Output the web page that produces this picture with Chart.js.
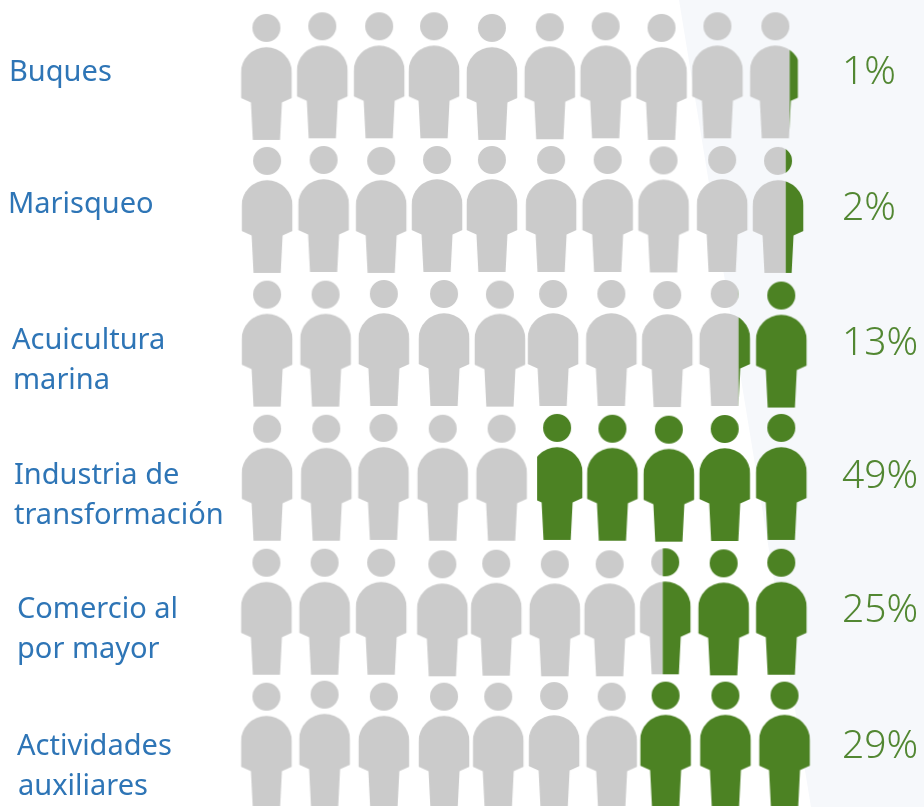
<!DOCTYPE html>
<html lang="es">
<head>
<meta charset="utf-8">
<title>Pictograma por sector</title>
<script src="https://cdn.jsdelivr.net/npm/chart.js@4"></script>
<style>html,body{margin:0;padding:0;background:#fff}canvas{display:block}</style>
</head>
<body>
<canvas id="c" width="924" height="807"></canvas>
<script>
// ---- data ----
const categories = [["Buques"],["Marisqueo"],["Acuicultura","marina"],["Industria de","transformación"],["Comercio al","por mayor"],["Actividades","auxiliares"]];
const shares = [1,2,13,49,25,29];
// how many pictogram people are green, counted from the right
const greenPersons = [0.22,0.35,1.23,5,2.55,3];
// column / row position of each person
const row1Cols = [1,1.974,2.965,3.922,4.930,5.939,6.913,7.887,8.861,9.870];
const row2Cols = [1.012,1.997,3,3.974,4.930,5.962,6.948,7.922,8.943,9.917];
const row3Cols = [1.012,2.031,3.047,4.096,5.070,5.997,7.012,7.986,8.988,9.974];
const row4Cols = [1.012,2.043,3.040,4.073,5.099,6.066,7.030,8.014,8.988,9.974];
const row5Cols = [1,2.014,3,4.066,5.005,6.026,6.983,7.951,8.970,9.974];
const row6Cols = [1,2.014,3.047,4.096,5.040,6.014,7.017,7.957,9,10.031];
const row1Rows = [1.007,0.995,0.995,0.995,1.007,1.002,0.995,1.007,0.995,0.995];
const row2Rows = [2,1.993,2,1.993,1.993,1.993,1.993,1.996,1.993,2];
const row3Rows = [2.998,2.998,2.993,2.993,2.998,2.993,2.993,3.001,2.993,3.005];
const row4Rows = [3.999,3.999,3.993,3.999,3.999,3.993,3.999,4.006,4.001,3.993];
const row5Rows = [4.999,4.999,4.999,5.011,5.006,5.011,5.011,4.996,5.004,4.999];
const row6Rows = [5.999,5.984,5.999,5.999,5.999,5.994,5.999,5.991,5.991,5.991];
const allCols = [row1Cols,row2Cols,row3Cols,row4Cols,row5Cols,row6Cols];
const allRows = [row1Rows,row2Rows,row3Rows,row4Rows,row5Rows,row6Rows];

// ---- layout (pixels) ----
const labelX = [[9],[8],[12,13],[14,14],[17,17],[17,18]];
const labelBaseline = [[81],[213],[349,389],[484,524],[618,658],[755,795]];
const shareX = 842;
const shareBaseline = [84,220,355,488,622,758];
const bodyTrims = [{row:0,col:9,right:3},{row:3,col:5,left:5.5}];

// ---- style ----
const GRAY = '#cbcbcb', GREEN = '#4c8223', BLUE = '#2e75b6', SHARE = '#528732', PANEL = '#f6f8fb';
const LABEL_FONT = '400 29px "Noto Sans"';
const SHARE_FONT = '300 39px "Noto Sans"';

// person sprite, anchored at the centre of the head
function personSprite(f, trimL, trimR){
  const W = 64, H = 240, cv = document.createElement('canvas');
  cv.width = W; cv.height = H;
  const g = cv.getContext('2d');
  g.translate(W/2, H/2);
  const hw = 25.5;
  function shape(){
    g.beginPath();
    g.arc(0,0,14,0,Math.PI*2);
    g.closePath();
    g.moveTo(-hw,44.8);
    g.arc(0,44.8,hw,Math.PI,0);
    g.lineTo(hw,70);
    g.lineTo(15.5,74.5);
    g.lineTo(13.6,112);
    g.lineTo(-13.6,112);
    g.lineTo(-15.5,74.5);
    g.lineTo(-hw,70);
    g.closePath();
  }
  const split = hw - f*2*hw;
  const L = -hw + trimL, R = hw - trimR;
  const S = Math.max(split, L);
  if (f < 1){ g.save(); g.beginPath(); g.rect(L,-20,S-L,140); g.clip(); shape(); g.fillStyle = GRAY; g.fill(); g.restore(); }
  if (f > 0){ g.save(); g.beginPath(); g.rect(S,-20,R-S,140); g.clip(); shape(); g.fillStyle = GREEN; g.fill(); g.restore(); }
  return cv;
}

const datasets = categories.map((cat,r)=>{
  const styles = allCols[r].map((_,c)=>{
    const f = Math.max(0,Math.min(1,greenPersons[r]-(9-c)));
    const t = bodyTrims.find(b=>b.row===r&&b.col===c)||{};
    return personSprite(f,t.left||0,t.right||0);
  });
  return {
    label: cat.join(' '),
    data: allCols[r].map((x,i)=>({x,y:allRows[r][i]})),
    pointStyle: styles,
    pointRadius: 1, pointHoverRadius: 1, pointBorderWidth: 0, showLine:false
  };
});

const panelPlugin = {
  id:'panel',
  beforeDatasetsDraw(chart){
    const g = chart.ctx;
    g.save(); g.fillStyle = PANEL;
    g.beginPath(); g.moveTo(679,0); g.lineTo(811,807); g.lineTo(924,807); g.lineTo(924,0); g.closePath(); g.fill();
    g.restore();
  }
};
const textPlugin = {
  id:'texts',
  afterDatasetsDraw(chart){
    const g = chart.ctx;
    g.save(); g.textAlign='left'; g.textBaseline='alphabetic';
    g.font = LABEL_FONT; g.fillStyle = BLUE;
    categories.forEach((lines,r)=>lines.forEach((t,i)=>g.fillText(t,labelX[r][i],labelBaseline[r][i])));
    g.font = SHARE_FONT; g.fillStyle = SHARE;
    shares.forEach((s,r)=>g.fillText(s+'%',shareX,shareBaseline[r]));
    g.restore();
  }
};

new Chart(document.getElementById('c'),{
  type:'scatter',
  data:{datasets},
  plugins:[panelPlugin,textPlugin],
  options:{
    responsive:false, animation:false, events:[],
    layout:{padding:0},
    plugins:{legend:{display:false},tooltip:{enabled:false},title:{display:false}},
    scales:{
      x:{type:'linear',display:false,min:-3.626,max:12.444},
      y:{type:'linear',display:false,reverse:true,min:0.8064,max:6.815}
    }
  }
});
</script>
</body>
</html>
